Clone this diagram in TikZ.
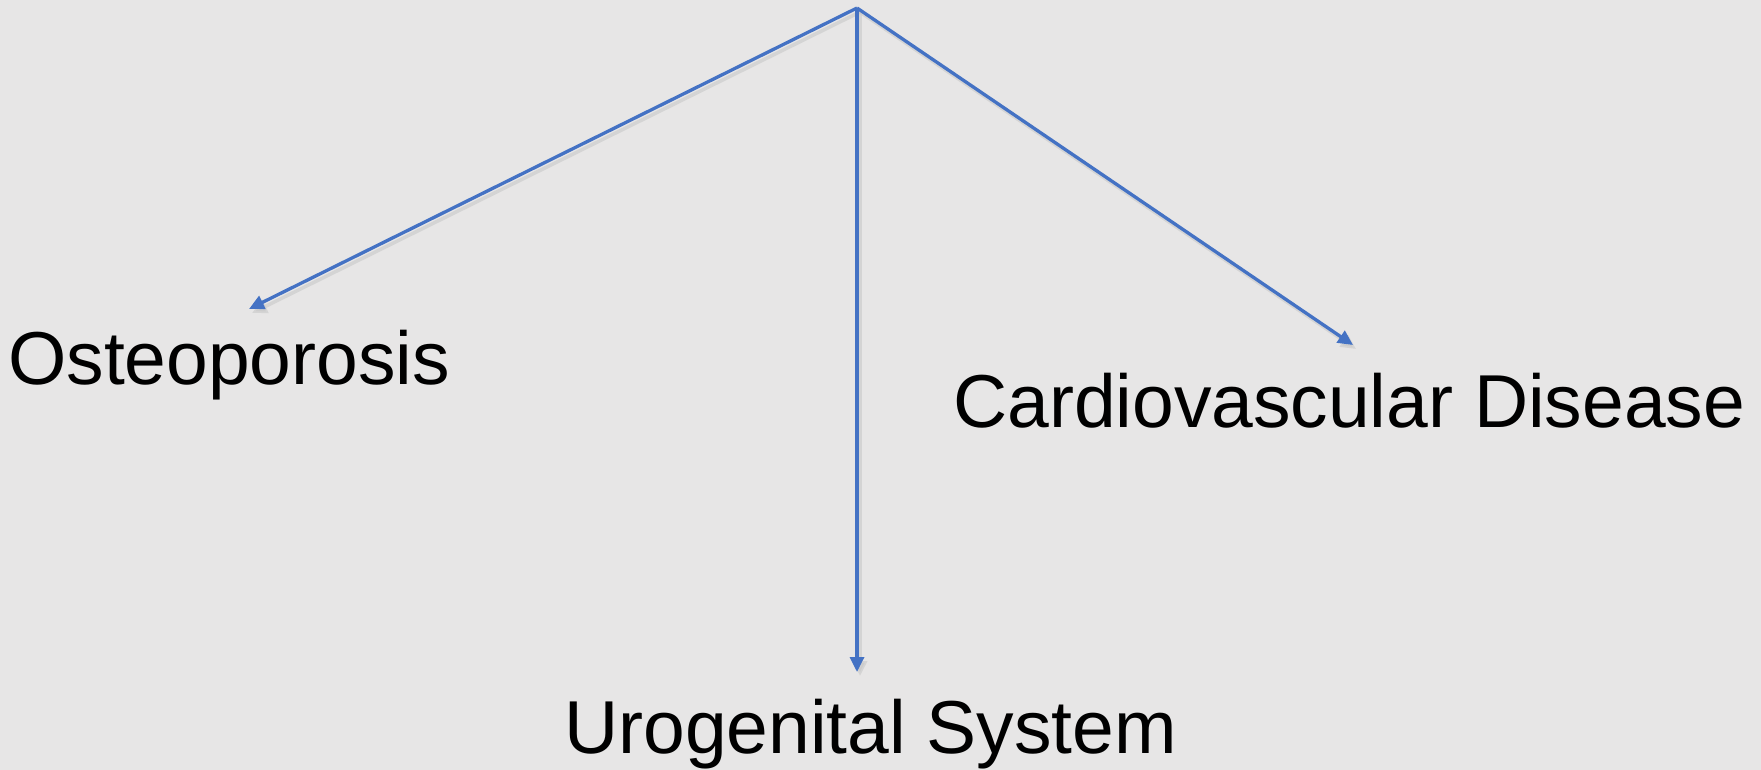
\documentclass[tikz,border=0pt]{standalone}
\usepackage{fontspec}
\setmainfont{Liberation Sans}
\usetikzlibrary{arrows.meta}
\definecolor{bg}{HTML}{E7E6E6}
\definecolor{arrowblue}{HTML}{4472C4}
\definecolor{shadowgray}{HTML}{C8C8C8}
\tikzset{
  conn/.style={draw=arrowblue, line width=3.3pt, -{Triangle[length=15pt,width=14pt]}},
  connshadow/.style={draw=shadowgray, line width=3.5pt, opacity=0.6, -{Triangle[length=15pt,width=14pt]}},
  lbl/.style={font=\fontsize{75}{80}\selectfont, text=black, inner sep=0pt, anchor=base west}
}
\begin{document}
\begin{tikzpicture}[x=1pt,y=-1pt]
  \fill[bg] (0,0) rectangle (1761,770);
  \useasboundingbox (0,0) rectangle (1761,770);
  \coordinate (top) at (857,8);
  \coordinate (eL) at (249,309);
  \coordinate (eR) at (1353,345);
  \coordinate (eM) at (857,672);
  \coordinate (topS) at (860,12);
  \coordinate (eLS) at (252,313);
  \coordinate (eRS) at (1356,349);
  \coordinate (eMS) at (860,676);
  \draw[connshadow] (topS) -- (eLS);
  \draw[connshadow] (topS) -- (eRS);
  \draw[connshadow] (topS) -- (eMS);
  \draw[conn] (top) -- (eL);
  \draw[conn] (top) -- (eR);
  \draw[conn] (top) -- (eM);
  \node[lbl] (osteo) at (8,384) {Osteoporosis};
  \node[lbl] (cardio) at (953,427) {Cardiovascular Disease};
  \node[lbl] (uro) at (564,753) {Urogenital System};
\end{tikzpicture}
\end{document}
